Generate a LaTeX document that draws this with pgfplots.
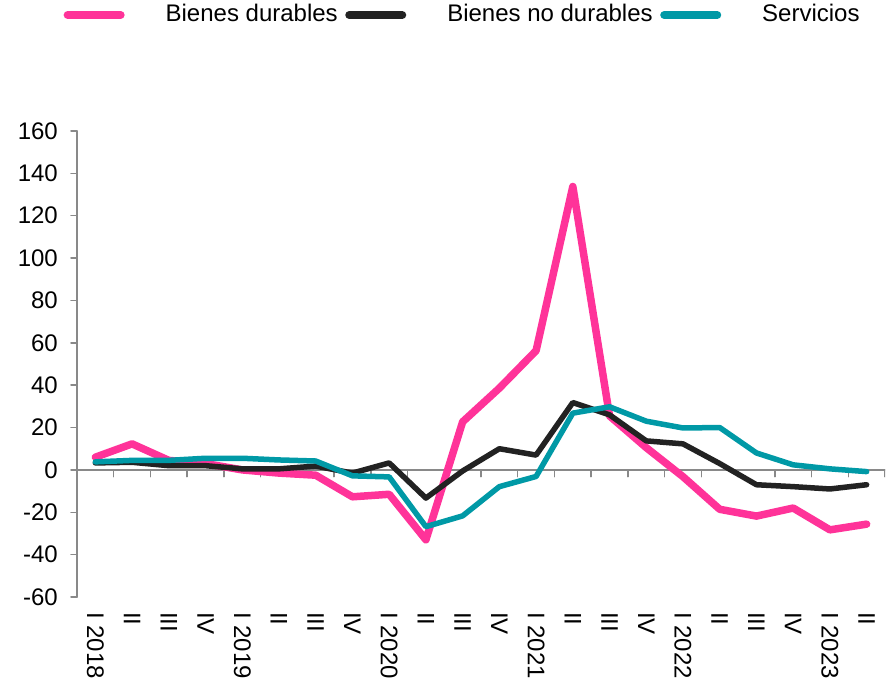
\documentclass[border=0pt]{standalone}
\usepackage{fontspec}
\setmainfont{Liberation Sans}
\usepackage{pgfplots}
\pgfplotsset{compat=1.18}
\definecolor{cpink}{HTML}{FF3399}
\definecolor{cblack}{HTML}{222222}
\definecolor{cteal}{HTML}{0099A6}
\definecolor{cgray}{HTML}{898989}
\begin{document}
\fontsize{24}{28}\selectfont
\begin{tikzpicture}
\begin{axis}[
 scale only axis, width=808pt, height=466pt,
 xmin=-0.5, xmax=21.5, ymin=-60, ymax=160,
 axis x line*=bottom, axis y line*=left,
 x axis line style={draw=none},
 y axis line style={cgray, line width=1.5pt},
 ytick={-60,-40,-20,0,20,40,60,80,100,120,140,160},
 yticklabels={-60,-40,-20,0,20,40,60,80,100,120,140,160},
 yticklabel style={xshift=-5pt},
 xtick={0,...,21},
 xticklabels={I 2018,II,III,IV,I 2019,II,III,IV,I 2020,II,III,IV,I 2021,II,III,IV,I 2022,II,III,IV,I 2023,II},
 xticklabel style={rotate=-90, anchor=west, inner sep=0pt, xshift=9pt},
 x tick style={draw=none},
 y tick style={cgray, line width=1.5pt},
 tick align=outside, major tick length=6pt,
 tick label style={font=\fontsize{24}{28}\selectfont},
 legend columns=3,
 legend image code/.code={\draw[#1, line width=8pt, line cap=round] (0pt,0pt) -- (53pt,0pt);},
 legend style={draw=none, fill=none, at={(-0.0205,1.249)}, anchor=west,
   font=\fontsize{24}{28}\selectfont, nodes={inner sep=0pt},
   /tikz/every odd column/.append style={column sep=41pt},
   /tikz/every even column/.append style={column sep=7.5pt}},
 line cap=round, line join=round,
]
\addplot[cgray, line width=1.5pt, forget plot] coordinates {(-0.5,0) (21.5,0)};
\addplot[cgray, line width=1.5pt, ycomb, forget plot] coordinates {(0.5,-3.2) (1.5,-3.2) (2.5,-3.2) (3.5,-3.2) (4.5,-3.2) (5.5,-3.2) (6.5,-3.2) (7.5,-3.2) (8.5,-3.2) (9.5,-3.2) (10.5,-3.2) (11.5,-3.2) (12.5,-3.2) (13.5,-3.2) (14.5,-3.2) (15.5,-3.2) (16.5,-3.2) (17.5,-3.2) (18.5,-3.2) (19.5,-3.2) (20.5,-3.2) (21.5,-3.2)};
\addplot[cpink, line width=7.5pt] coordinates {(0,6) (1,12.3) (2,4.5) (3,3) (4,0) (5,-1.5) (6,-2.5) (7,-12.7) (8,-11.5) (9,-33) (10,22.7) (11,38.6) (12,56.3) (13,133.8) (14,25.5) (15,10.5) (16,-3.2) (17,-18.6) (18,-21.8) (19,-18) (20,-28.3) (21,-25.6)};
\addlegendentry{Bienes durables}
\addplot[cblack, line width=5.5pt] coordinates {(0,3.3) (1,3.6) (2,2) (3,2) (4,0.5) (5,0.5) (6,1.8) (7,-1.5) (8,3.3) (9,-13.3) (10,-0.5) (11,10) (12,7) (13,31.8) (14,26) (15,13.7) (16,12.3) (17,3) (18,-7) (19,-7.9) (20,-9) (21,-7)};
\addlegendentry{Bienes no durables}
\addplot[cteal, line width=5.5pt] coordinates {(0,3.8) (1,4.5) (2,4.5) (3,5.5) (4,5.5) (5,4.7) (6,4.2) (7,-2.8) (8,-3.3) (9,-26.8) (10,-21.7) (11,-7.9) (12,-3.1) (13,26.8) (14,29.8) (15,23) (16,19.8) (17,20) (18,8) (19,2.4) (20,0.5) (21,-0.8)};
\addlegendentry{Servicios}
\end{axis}
\path ([xshift=-77pt,yshift=-83pt]current axis.south west) rectangle ([xshift=8pt,yshift=131pt]current axis.north east);
\end{tikzpicture}
\end{document}
